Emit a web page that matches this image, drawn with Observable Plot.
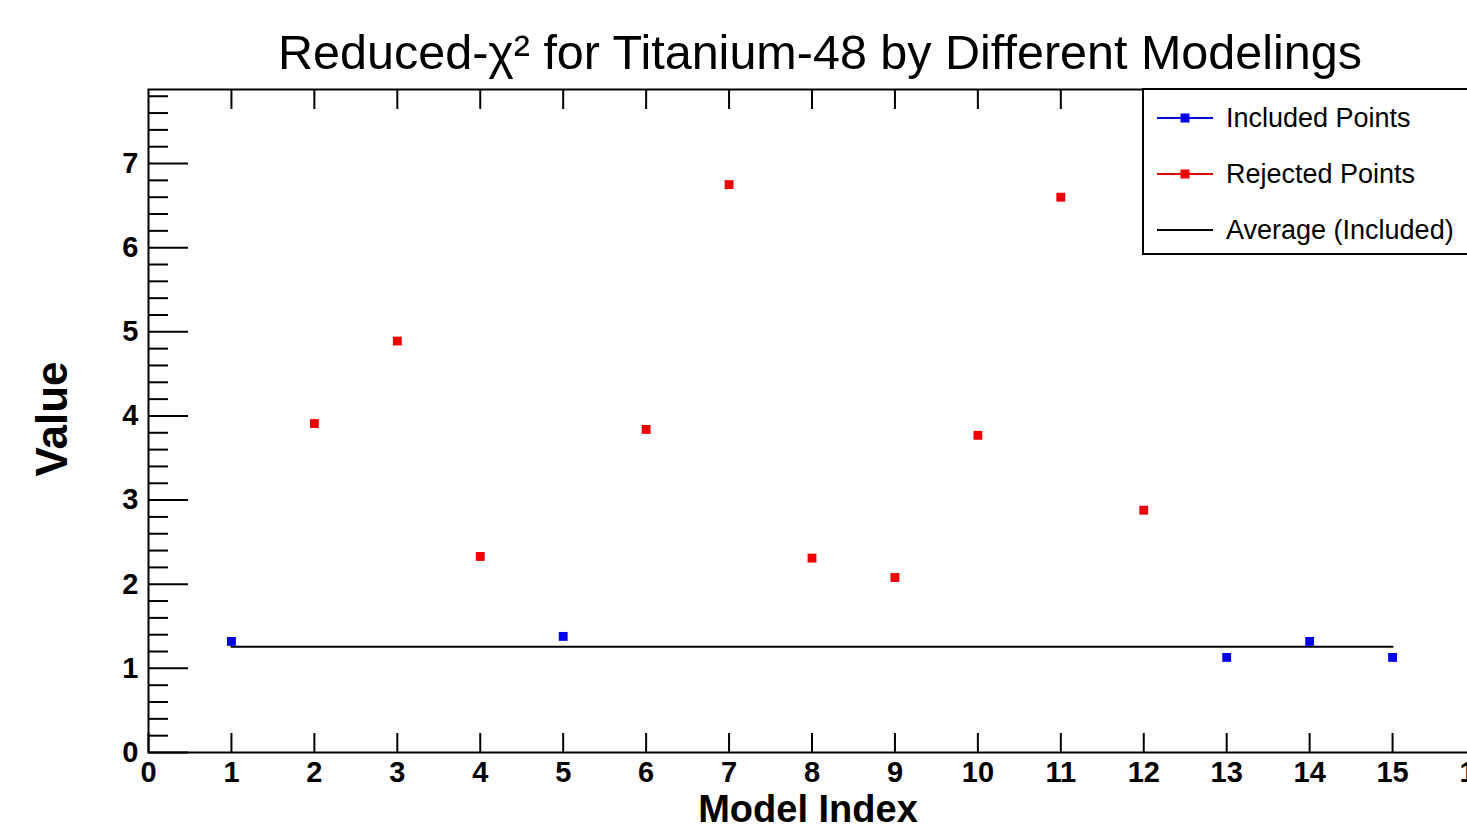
<!DOCTYPE html>
<html>
<head>
<meta charset="utf-8">
<script src="https://cdn.jsdelivr.net/npm/d3@7"></script>
<script src="https://cdn.jsdelivr.net/npm/@observablehq/plot@0.6"></script>
<style>
  html, body { margin: 0; padding: 0; background: #fff; }
  #wrap { position: relative; width: 1467px; height: 827px; overflow: hidden;
          font-family: "Liberation Sans", Arial, Helvetica, sans-serif; }
  #legend { position: absolute; left: 1142px; top: 88px; width: 400px; height: 167px;
            border: 2px solid #000; box-sizing: border-box; background: #fff; }
  .row { position: absolute; left: 12px; height: 30px; display: flex; align-items: center; }
  .row svg { display: block; }
  .row span { font-size: 27px; margin-left: 12px; color: #000; white-space: nowrap; }
</style>
</head>
<body>
<div id="wrap"></div>
<script>
// ---- data ----
const includedIndex = [1, 5, 13, 14, 15];
const includedValue = [1.32, 1.38, 1.13, 1.32, 1.13];
const rejectedIndex = [2, 3, 4, 6, 7, 8, 9, 10, 11, 12];
const rejectedValue = [3.91, 4.89, 2.33, 3.84, 6.75, 2.31, 2.08, 3.77, 6.60, 2.88];
const averageSpan = [1, 15];
const xTickValues = [0, 1, 2, 3, 4, 5, 6, 7, 8, 9, 10, 11, 12, 13, 14, 15, 16];
const xTopTickValues = [1, 2, 3, 4, 5, 6, 7, 8, 9, 10, 11, 12, 13, 14, 15];
const yMajorTickValues = [0, 1, 2, 3, 4, 5, 6, 7];
const yMinorTickValues = [0.2, 0.4, 0.6, 0.8, 1.2, 1.4, 1.6, 1.8, 2.2, 2.4, 2.6, 2.8,
  3.2, 3.4, 3.6, 3.8, 4.2, 4.4, 4.6, 4.8, 5.2, 5.4, 5.6, 5.8, 6.2, 6.4, 6.6, 6.8,
  7.2, 7.4, 7.6, 7.8];
const titleText = "Reduced-\u03c7\u00b2 for Titanium-48 by Different Modelings";
const xLabelText = "Model Index";
const yLabelText = "Value";
const legendItems = [
  {label: "Included Points", color: "#0000ee", marker: true},
  {label: "Rejected Points", color: "#ee0000", marker: true},
  {label: "Average (Included)", color: "#000000", marker: false}
];

// ---- derived tables ----
const included = includedIndex.map((x, i) => ({x, y: includedValue[i]}));
const rejected = rejectedIndex.map((x, i) => ({x, y: rejectedValue[i]}));
const avg = d3.mean(includedValue);
const avgLine = averageSpan.map(x => ({x, y: avg}));

const font = "'Liberation Sans', Arial, Helvetica, sans-serif";

const chart = Plot.plot({
  width: 1467,
  height: 827,
  marginLeft: 148,
  marginRight: -8,
  marginTop: 89,
  marginBottom: 75,
  style: {fontFamily: font, background: "#fff", color: "#000", overflow: "visible"},
  x: {domain: [0, 16]},
  y: {domain: [0, 7.88]},
  marks: [
    Plot.frame({stroke: "#000", strokeWidth: 2}),
    // y axis ticks (inward) and labels
    Plot.axisY({ticks: yMajorTickValues, tickSize: -40, fill: "none", strokeWidth: 2, label: null}),
    Plot.axisY({ticks: yMinorTickValues, tickSize: -20, fill: "none", strokeWidth: 2, label: null}),
    Plot.axisY({ticks: yMajorTickValues, tickSize: 0, tickPadding: 10, tickFormat: d => String(d),
                fontSize: 29, fontWeight: "bold", label: null}),
    // x axis ticks (inward, bottom and top) and labels
    Plot.axisX({anchor: "bottom", ticks: xTickValues, tickSize: -19, fill: "none", strokeWidth: 2, label: null}),
    Plot.axisX({anchor: "top", ticks: xTopTickValues, tickSize: -19, fill: "none", strokeWidth: 2, label: null}),
    Plot.axisX({anchor: "bottom", ticks: xTickValues, tickSize: 0, tickPadding: 9, tickFormat: d => String(d),
                fontSize: 29, fontWeight: "bold", label: null}),
    // average line
    Plot.line(avgLine, {x: "x", y: "y", stroke: "#000", strokeWidth: 2}),
    // points
    Plot.dot(rejected, {x: "x", y: "y", symbol: "square", r: 5, fill: legendItems[1].color, stroke: "none"}),
    Plot.dot(included, {x: "x", y: "y", symbol: "square", r: 5, fill: legendItems[0].color, stroke: "none"}),
    // titles
    Plot.text([titleText], {text: d => d, frameAnchor: "top", dy: -55, dx: 8, fontSize: 48.5, fill: "#000"}),
    Plot.text([xLabelText], {text: d => d, frameAnchor: "bottom", dy: 69, dx: -4, fontSize: 38, fontWeight: "bold", fill: "#000"}),
    Plot.text([yLabelText], {text: d => d, frameAnchor: "left", textAnchor: "middle", dx: -96, dy: -2, rotate: -90, fontSize: 44, fontWeight: "bold", fill: "#000"})
  ]
});

const wrap = document.getElementById("wrap");
wrap.appendChild(chart);

// legend
const legend = document.createElement("div");
legend.id = "legend";
const rowTops = [13, 69, 125];
legendItems.forEach((item, i) => {
  const row = document.createElement("div");
  row.className = "row";
  row.style.top = rowTops[i] + "px";
  const s = d3.create("svg").attr("width", 58).attr("height", 30);
  s.append("line").attr("x1", 1).attr("x2", 57).attr("y1", 15).attr("y2", 15)
    .attr("stroke", item.color).attr("stroke-width", 2);
  if (item.marker) {
    s.append("rect").attr("x", 24.5).attr("y", 10.5).attr("width", 9).attr("height", 9).attr("fill", item.color);
  }
  row.appendChild(s.node());
  const t = document.createElement("span");
  t.textContent = item.label;
  row.appendChild(t);
  legend.appendChild(row);
});
wrap.appendChild(legend);
</script>
</body>
</html>
